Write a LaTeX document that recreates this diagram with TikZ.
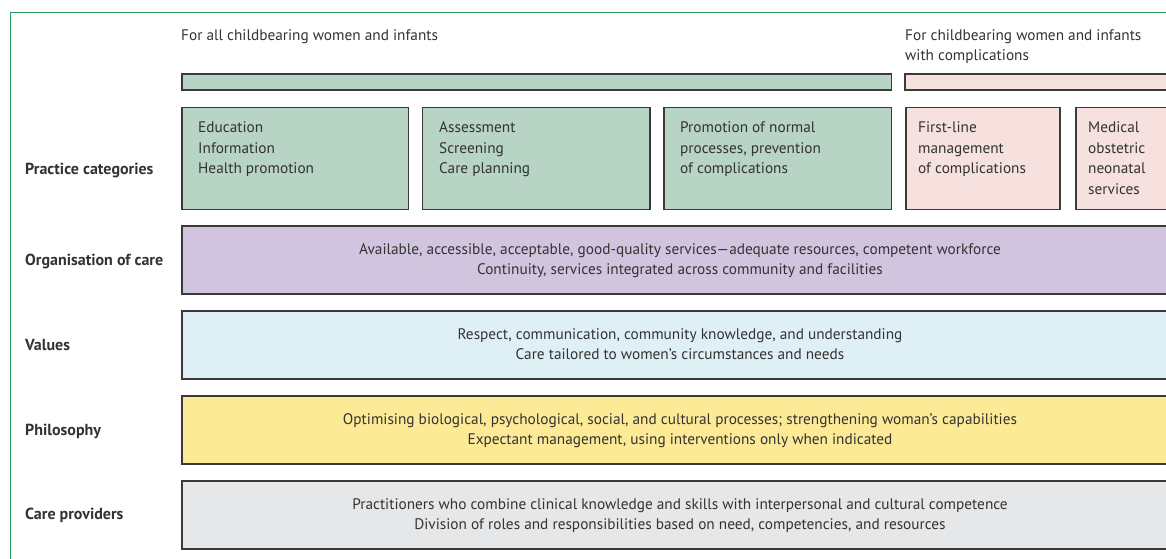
\documentclass[tikz,border=0pt]{standalone}
\usepackage{fontspec}
\setmainfont{PT Sans}
\definecolor{frameg}{HTML}{2E9A5C}
\definecolor{gfill}{HTML}{B7D4C4}
\definecolor{pfill}{HTML}{F6E1DF}
\definecolor{vfill}{HTML}{D1C4DF}
\definecolor{bfill}{HTML}{DFEFF6}
\definecolor{yfill}{HTML}{FDEA96}
\definecolor{cfill}{HTML}{E6E7E9}
\definecolor{txt}{HTML}{333333}
\definecolor{edge}{HTML}{3A3A3A}
\tikzset{
  base/.style={font=\fontsize{15.3}{20.6}\selectfont, text=txt, inner sep=0pt},
  cat/.style={base, anchor=base west, font=\fontsize{16}{20}\selectfont\bfseries},
  boxshape/.style={draw=edge, line width=1.1pt},
  boxtext/.style={base, anchor=base west, align=left},
  widetext/.style={base, anchor=base, align=center},
  toptext/.style={base, anchor=base west, align=left}
}
\begin{document}
\begin{tikzpicture}[x=1pt,y=-1pt]
\useasboundingbox (0,0) rectangle (1166,558);
\clip (0,0) rectangle (1166,558);
\fill[white] (0,0) rectangle (1166,558);
% frame
\draw[frameg, line width=1.2pt] (10.7,560) -- (10.7,12.3) -- (1170,12.3);
% top labels (anchor = baseline of the last line)
\node[toptext] (tl1) at (181,40) {For all childbearing women and infants};
\node[toptext] (tl2) at (905,60.6) {For childbearing women and infants\\with complications};
% bars
\draw[boxshape, fill=gfill] (182,74) rectangle (891.5,90);
\draw[boxshape, fill=pfill] (905,74) rectangle (1180,90);
% practice boxes
\draw[boxshape, fill=gfill] (182,107.7) rectangle (408.5,209.5);
\draw[boxshape, fill=gfill] (422.7,107.7) rectangle (650,209.5);
\draw[boxshape, fill=gfill] (664,107.7) rectangle (891.5,209.5);
\draw[boxshape, fill=pfill] (906,107.7) rectangle (1060,209.5);
\draw[boxshape, fill=pfill] (1076,107.7) rectangle (1180,209.5);
\node[boxtext] (p1) at (198,173.9) {Education\\Information\\Health promotion};
\node[boxtext] (p2) at (439,173.9) {Assessment\\Screening\\Care planning};
\node[boxtext] (p3) at (680,173.9) {Promotion of normal\\processes, prevention\\of complications};
\node[boxtext] (p4) at (918,173.9) {First-line\\management\\of complications};
\node[boxtext] (p5) at (1088,194.5) {Medical\\obstetric\\neonatal\\services};
% wide boxes
\draw[boxshape, fill=vfill] (182,226) rectangle (1180,294);
\draw[boxshape, fill=bfill] (182,311) rectangle (1180,379);
\draw[boxshape, fill=yfill] (182,396) rectangle (1180,464);
\draw[boxshape, fill=cfill] (182,481) rectangle (1180,549);
\node[widetext] (w1) at (680,274.6) {Available, accessible, acceptable, good-quality services—adequate resources, competent workforce\\Continuity, services integrated across community and facilities};
\node[widetext] (w2) at (680,359.6) {Respect, communication, community knowledge, and understanding\\Care tailored to women’s circumstances and needs};
\node[widetext] (w3) at (680,444.6) {Optimising biological, psychological, social, and cultural processes; strengthening woman’s capabilities\\Expectant management, using interventions only when indicated};
\node[widetext] (w4) at (680,529.6) {Practitioners who combine clinical knowledge and skills with interpersonal and cultural competence\\Division of roles and responsibilities based on need, competencies, and resources};
% category labels
\node[cat] (c1) at (25,174) {Practice categories};
\node[cat] (c2) at (25,265) {Organisation of care};
\node[cat] (c3) at (25,350) {Values};
\node[cat] (c4) at (25,435) {Philosophy};
\node[cat] (c5) at (25,519.5) {Care providers};
\end{tikzpicture}
\end{document}
